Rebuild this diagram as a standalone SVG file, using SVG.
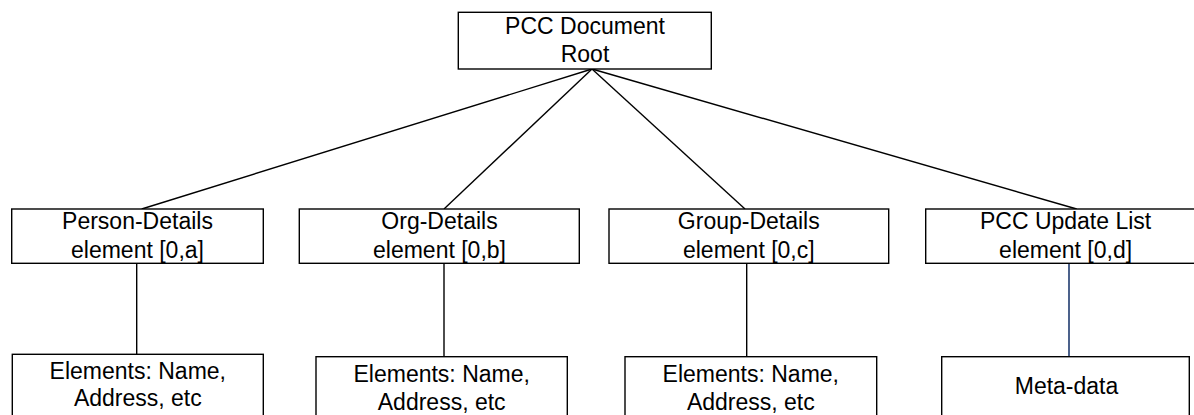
<svg xmlns="http://www.w3.org/2000/svg" width="1194" height="415" viewBox="0 0 1194 415">
<style>
.box{fill:#fff;stroke:#000;stroke-width:1.4}
.t{font-family:"Liberation Sans",Arial,sans-serif;font-size:23px;fill:#000;text-anchor:middle}
.c{stroke:#000;stroke-width:1.4;fill:none}
</style>
<rect width="1194" height="415" fill="#fff"/>
<g id="connectors">
<line class="c" x1="592" y1="69" x2="141.7" y2="209"/>
<line class="c" x1="592" y1="69" x2="444" y2="209"/>
<line class="c" x1="592" y1="69" x2="745" y2="209"/>
<line class="c" x1="592" y1="69" x2="1076.7" y2="209"/>
<line class="c" x1="136.7" y1="263" x2="136.7" y2="354"/>
<line class="c" x1="444" y1="263" x2="444" y2="356.7"/>
<line class="c" x1="746.7" y1="263" x2="746.7" y2="356.7"/>
<line x1="1069" y1="263" x2="1069" y2="356.7" stroke="#1f3a6e" stroke-width="1.6"/>
</g>
<g id="root">
<rect class="box" x="458.3" y="12.3" width="253" height="56.7"/>
<text class="t" x="585" y="34.3">PCC Document</text>
<text class="t" x="585" y="62.3">Root</text>
</g>
<g id="person">
<rect class="box" x="11.7" y="209" width="251.6" height="54.3"/>
<text class="t" x="137.5" y="229.3">Person-Details</text>
<text class="t" x="137.5" y="258.3">element [0,a]</text>
</g>
<g id="org">
<rect class="box" x="299.3" y="209" width="280" height="54.3"/>
<text class="t" x="439.5" y="229.3">Org-Details</text>
<text class="t" x="439.5" y="258.3">element [0,b]</text>
</g>
<g id="group">
<rect class="box" x="609" y="209" width="279.7" height="54.3"/>
<text class="t" x="748.8" y="229.3">Group-Details</text>
<text class="t" x="748.8" y="258.3">element [0,c]</text>
</g>
<g id="update">
<rect class="box" x="925.7" y="209" width="290" height="54.3"/>
<text class="t" x="1065.6" y="229.3">PCC Update List</text>
<text class="t" x="1065.6" y="258.3">element [0,d]</text>
</g>
<g id="person-elements">
<rect class="box" x="12.3" y="354.3" width="251" height="80"/>
<text class="t" x="137.8" y="379.3">Elements: Name,</text>
<text class="t" x="137.8" y="405.5">Address, etc</text>
</g>
<g id="org-elements">
<rect class="box" x="316" y="356.7" width="251.3" height="80"/>
<text class="t" x="441.7" y="382.3">Elements: Name,</text>
<text class="t" x="441.7" y="410">Address, etc</text>
</g>
<g id="group-elements">
<rect class="box" x="625" y="356.7" width="251.7" height="80"/>
<text class="t" x="750.8" y="382.3">Elements: Name,</text>
<text class="t" x="750.8" y="410">Address, etc</text>
</g>
<g id="metadata">
<rect class="box" x="941.7" y="356.7" width="247.6" height="80"/>
<text class="t" x="1066.5" y="394">Meta-data</text>
</g>
</svg>
